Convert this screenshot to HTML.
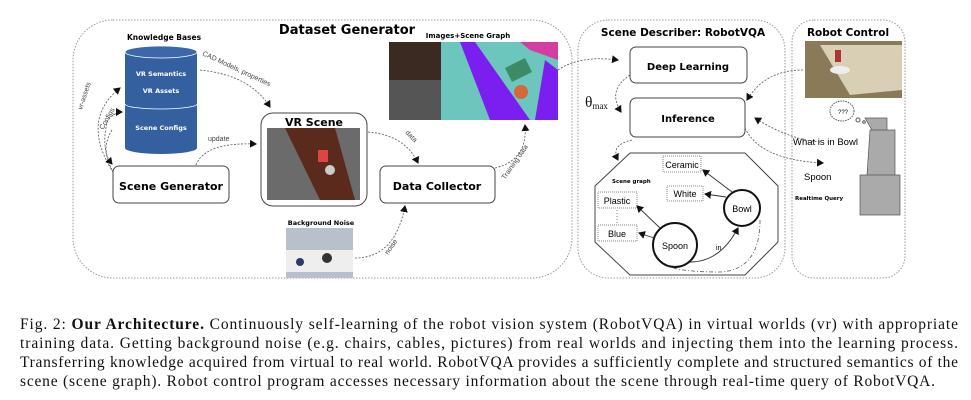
<!DOCTYPE html>
<html><head><meta charset="utf-8"><style>
html,body{margin:0;padding:0;background:#fff;}
svg{display:block;}
.b{font-family:"DejaVu Sans","Liberation Sans",sans-serif;font-weight:bold;}
.s{font-family:"Liberation Sans",sans-serif;}
.c{font-family:"Liberation Serif",serif;font-size:15.5px;fill:#111;}
</style></head><body>
<svg width="971" height="400" viewBox="0 0 971 400" xmlns="http://www.w3.org/2000/svg">
<defs>
<marker id="a" markerWidth="8" markerHeight="8" refX="6" refY="4" orient="auto" markerUnits="userSpaceOnUse"><path d="M0,0 L7,4 L0,8z" fill="#111"/></marker>
</defs>
<rect x="73" y="20" width="499" height="258" rx="40" fill="none" stroke="#999" stroke-dasharray="1.5,1.5"/>
<rect x="578" y="20" width="207" height="258" rx="30" fill="none" stroke="#999" stroke-dasharray="1.5,1.5"/>
<rect x="792" y="20" width="113" height="258" rx="22" fill="none" stroke="#999" stroke-dasharray="1.5,1.5"/>
<text x="347" y="34" text-anchor="middle" class="b" font-size="13">Dataset Generator</text>
<text x="683" y="36" text-anchor="middle" class="b" font-size="10.5">Scene Describer: RobotVQA</text>
<text x="848" y="36" text-anchor="middle" class="b" font-size="10.5">Robot Control</text>
<text x="164" y="40" text-anchor="middle" class="b" font-size="7.5">Knowledge Bases</text>
<path d="M125,52 L125,148 A36,6 0 0 0 197,148 L197,52z" fill="#34609f"/>
<ellipse cx="161" cy="52" rx="36" ry="6" fill="#3b68aa" stroke="#fff" stroke-width="0.8"/>
<path d="M125,104 A36,5 0 0 0 197,104" fill="none" stroke="#fff" stroke-width="0.8"/>
<text x="161" y="76" text-anchor="middle" class="b" font-size="6.5" fill="#fff">VR Semantics</text>
<text x="161" y="93" text-anchor="middle" class="b" font-size="6.5" fill="#fff">VR Assets</text>
<text x="161" y="130" text-anchor="middle" class="b" font-size="6.5" fill="#fff">Scene Configs</text>
<rect x="113" y="166" width="116" height="37" rx="6" fill="#fff" stroke="#444"/>
<text x="171" y="190" text-anchor="middle" class="b" font-size="11">Scene Generator</text>
<rect x="261" y="113" width="106" height="93" rx="12" fill="#fff" stroke="#444"/>
<text x="314" y="126" text-anchor="middle" class="b" font-size="11">VR Scene</text>
<rect x="267" y="128" width="93" height="72" fill="#6b6b6b"/>
<polygon points="285,128 335,128 355,200 320,200" fill="#5a2a1c"/>
<rect x="318" y="150" width="10" height="12" fill="#d44"/>
<circle cx="330" cy="170" r="5" fill="#ccc"/>
<rect x="380" y="166" width="115" height="37" rx="6" fill="#fff" stroke="#444"/>
<text x="437" y="190" text-anchor="middle" class="b" font-size="11">Data Collector</text>
<text x="468" y="38" text-anchor="middle" class="b" font-size="7">Images+Scene Graph</text>
<rect x="389" y="42" width="52" height="78" fill="#555"/>
<rect x="389" y="42" width="52" height="38" fill="#3a2a22"/>
<rect x="441" y="42" width="117" height="78" fill="#6cc6bd"/>
<polygon points="460,42 475,42 530,120 490,120" fill="#7a1ff0"/>
<polygon points="520,42 558,42 558,60 530,50" fill="#d23fa0"/>
<polygon points="545,60 558,70 558,120 535,120" fill="#7a1ff0"/>
<polygon points="505,68 525,58 532,72 512,82" fill="#3d8a66"/>
<circle cx="521" cy="92" r="7" fill="#d5683a"/>
<text x="321" y="225" text-anchor="middle" class="b" font-size="6.5">Background Noise</text>
<rect x="286" y="228" width="67" height="50" fill="#b8c0cc"/>
<rect x="286" y="250" width="67" height="22" fill="#eee"/>
<circle cx="327" cy="258" r="5" fill="#333"/>
<circle cx="300" cy="262" r="4" fill="#2a3a6a"/>
<rect x="630" y="47" width="117" height="36" rx="6" fill="#fff" stroke="#444"/>
<text x="688" y="70" text-anchor="middle" class="b" font-size="10">Deep Learning</text>
<rect x="630" y="98" width="115" height="39" rx="6" fill="#fff" stroke="#444"/>
<text x="688" y="122" text-anchor="middle" class="b" font-size="10">Inference</text>
<text x="585" y="107" class="c" font-size="15">θ<tspan font-size="9" dy="2">max</tspan></text>
<polygon points="630,153 745,153 778,186 778,242 745,275 630,275 595,242 595,186" fill="#fff" stroke="#444"/>
<text x="612" y="183" class="b" font-size="5.5">Scene graph</text>
<rect x="663" y="156" width="38" height="16" fill="#fff" stroke="#888" stroke-dasharray="1,1"/>
<text x="682" y="168" text-anchor="middle" class="s" font-size="9">Ceramic</text>
<rect x="667" y="186" width="36" height="15" fill="#fff" stroke="#888" stroke-dasharray="1,1"/>
<text x="685" y="197" text-anchor="middle" class="s" font-size="9">White</text>
<rect x="598" y="192" width="39" height="16" fill="#fff" stroke="#888" stroke-dasharray="1,1"/>
<text x="617" y="204" text-anchor="middle" class="s" font-size="9">Plastic</text>
<rect x="598" y="225" width="39" height="16" fill="#fff" stroke="#888" stroke-dasharray="1,1"/>
<text x="617" y="237" text-anchor="middle" class="s" font-size="9">Blue</text>
<line x1="617" y1="210" x2="617" y2="224" stroke="#888" stroke-dasharray="1,2"/>
<circle cx="742" cy="208" r="18" fill="#fff" stroke="#111" stroke-width="2"/>
<text x="742" y="212" text-anchor="middle" class="s" font-size="9">Bowl</text>
<circle cx="675" cy="245" r="22" fill="#fff" stroke="#111" stroke-width="2"/>
<text x="675" y="249" text-anchor="middle" class="s" font-size="9">Spoon</text>
<text x="716" y="250" class="s" font-size="7">in</text>
<g stroke="#333" fill="none" stroke-width="0.9" marker-end="url(#a)">
<line x1="732" y1="192" x2="703" y2="170"/>
<line x1="726" y1="197" x2="705" y2="194"/>
<line x1="660" y1="228" x2="637" y2="206"/>
<line x1="654" y1="238" x2="639" y2="233"/>
<path d="M690,262 Q720,262 738,228"/>
</g>
<path d="M760,220 Q760,270 720,272 Q680,272 668,266" fill="none" stroke="#555" stroke-width="0.8" stroke-dasharray="4,2,1,2"/>
<rect x="805" y="41" width="97" height="57" fill="#8a7a58"/>
<polygon points="820,45 902,45 902,90 850,95" fill="#d8cfb4"/>
<ellipse cx="840" cy="70" rx="10" ry="4" fill="#eee"/>
<rect x="835" y="50" width="6" height="12" fill="#a33"/>
<path d="M865,118 h22 v12 h-15 z M870,130 h25 v45 h-28 z M860,175 h40 v40 h-40 z" fill="#aaa" stroke="#555" stroke-width="0.7"/>
<ellipse cx="842" cy="111" rx="12" ry="10" fill="#fff" stroke="#555" stroke-dasharray="1.5,1"/>
<text x="838" y="114" class="s" font-size="6">???</text>
<circle cx="858" cy="120" r="2" fill="none" stroke="#555"/><circle cx="864" cy="122" r="1.3" fill="none" stroke="#555"/>
<text x="793" y="145" class="s" font-size="9.5">What is in Bowl</text>
<text x="804" y="180" class="s" font-size="9.5">Spoon</text>
<text x="795" y="200" class="b" font-size="5.5">Realtime Query</text>
<g stroke="#555" fill="none" stroke-width="0.8" stroke-dasharray="2,1.5" marker-end="url(#a)">
<path d="M200,70 Q250,75 270,107"/>
<path d="M113,172 Q80,120 120,88"/>
<path d="M112,170 Q100,145 108,120 Q115,112 122,112"/>
<path d="M112,130 Q100,150 112,164"/>
<path d="M196,165 Q205,142 256,144"/>
<path d="M368,132 Q405,135 418,163"/>
<path d="M355,258 Q395,258 405,206"/>
<path d="M495,168 Q528,160 525,125"/>
<path d="M558,70 Q580,55 618,60"/>
<path d="M630,75 Q607,90 621,112"/>
<path d="M632,140 Q610,145 618,160"/>
<path d="M803,70 Q765,70 747,100"/>
<path d="M820,142 Q790,140 755,118"/>
<path d="M745,128 Q760,160 823,163"/>
</g>
<text class="s" font-size="7" fill="#444" transform="translate(202,55) rotate(25)">CAD Models, properties</text>
<text class="s" font-size="7" fill="#444" transform="translate(82,110) rotate(-72)">vr-assets</text>
<text class="s" font-size="7" fill="#444" transform="translate(103,130) rotate(-60)">Configs</text>
<text class="s" font-size="7" fill="#444" x="208" y="141">update</text>
<text class="s" font-size="7" fill="#444" transform="translate(405,133) rotate(45)">data</text>
<text class="s" font-size="7" fill="#444" transform="translate(388,255) rotate(-55)">noise</text>
<text class="s" font-size="7" fill="#444" transform="translate(505,180) rotate(-55)">Training data</text>
<text class="c" x="20" y="329" textLength="938" lengthAdjust="spacing">Fig. 2: <tspan font-weight="bold">Our Architecture.</tspan> Continuously self-learning of the robot vision system (RobotVQA) in virtual worlds (vr) with appropriate</text>
<text class="c" x="20" y="348" textLength="938" lengthAdjust="spacing">training data. Getting background noise (e.g. chairs, cables, pictures) from real worlds and injecting them into the learning process.</text>
<text class="c" x="20" y="367" textLength="938" lengthAdjust="spacing">Transferring knowledge acquired from virtual to real world. RobotVQA provides a sufficiently complete and structured semantics of the</text>
<text class="c" x="20" y="386" textLength="915" lengthAdjust="spacing">scene (scene graph). Robot control program accesses necessary information about the scene through real-time query of RobotVQA.</text>
</svg>
</body></html>
